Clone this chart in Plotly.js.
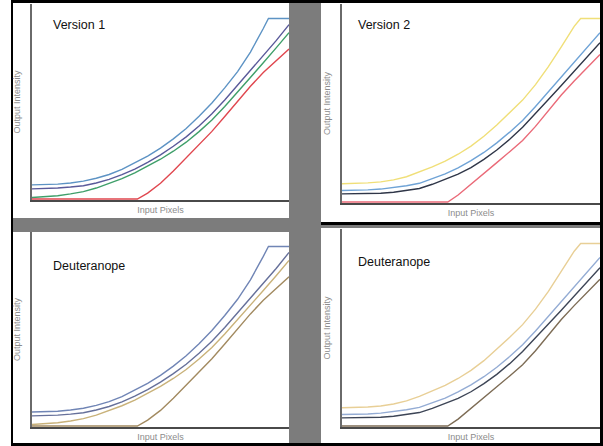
<!DOCTYPE html>
<html>
<head>
<meta charset="utf-8">
<script src="https://cdn.plot.ly/plotly-3.0.1.min.js"></script>
<style>html,body{margin:0;padding:0;background:#fff;}#chart{width:603px;height:446px;}</style>
</head>
<body>
<div id="chart"></div>
<script>
// Panel titles and axis titles
const panelTitles = ["Version 1", "Version 2", "Deuteranope", "Deuteranope"];
const xTitle = "Input Pixels";
const yTitle = "Output Intensity";

// Shared input positions
const xStd = [0, 5, 10, 15, 20, 25, 30, 35, 40, 45, 50, 55, 60, 65, 70, 75, 80, 85, 90, 95, 100];

// Left column (Version 1 and its deuteranope simulation)
const v1TopX = [0, 5, 10, 15, 20, 25, 30, 35, 40, 45, 50, 55, 60, 65, 70, 75, 80, 85, 90, 92, 100];
const v1TopY = [7.7, 7.8, 8.1, 8.7, 9.6, 11.1, 13.0, 15.6, 18.8, 22.4, 26.5, 31.2, 36.5, 42.7, 49.5, 57.2, 65.5, 75.5, 87.5, 92.6, 92.6];
const v1SecondY = [5.7, 5.8, 6.1, 6.6, 7.3, 8.7, 10.5, 12.9, 15.8, 19.2, 23.0, 27.4, 32.2, 37.8, 44.0, 51.0, 58.5, 66.0, 73.5, 81.3, 89.5];
const v1ThirdY = [1.3, 1.6, 2.2, 3.1, 4.3, 6.1, 8.3, 10.9, 13.8, 17.1, 20.8, 24.9, 29.5, 34.9, 40.8, 47.7, 55.0, 62.5, 70.0, 77.6, 85.4];
const v1LowX = [0, 10, 20, 30, 41, 45, 50, 55, 60, 65, 70, 75, 80, 85, 90, 95, 100];
const v1LowY = [0.5, 0.5, 0.5, 0.5, 0.5, 3.5, 8.5, 14.8, 21.5, 28.2, 35.0, 42.6, 50.5, 58.0, 65.0, 71.2, 77.0];

// Right column (Version 2 and its deuteranope simulation)
const v2TopX = [0, 5, 10, 15, 20, 25, 30, 35, 40, 45, 50, 55, 60, 65, 70, 75, 80, 85, 90, 92.5, 100];
const v2TopY = [9.7, 9.8, 10.1, 10.6, 11.6, 13.2, 15.5, 18.2, 21.0, 24.5, 28.6, 33.5, 39.2, 45.3, 51.7, 59.5, 68.5, 78.5, 88.8, 92.7, 92.7];
const v2SecondY = [6.3, 6.4, 6.6, 7.0, 7.7, 8.7, 9.9, 12.1, 14.6, 17.7, 21.3, 25.4, 30.2, 35.6, 41.5, 48.5, 56.0, 63.5, 71.0, 78.3, 85.6];
const v2ThirdY = [4.6, 4.6, 4.7, 4.9, 5.4, 6.3, 7.3, 9.4, 11.8, 14.5, 17.8, 21.9, 26.6, 32.0, 38.1, 44.8, 52.0, 59.0, 66.0, 73.2, 80.5];
const v2LowX = [0, 10, 20, 30, 41, 45, 50, 55, 60, 65, 70, 75, 80, 85, 90, 95, 100];
const v2LowY = [0.5, 0.5, 0.5, 0.5, 0.5, 4.0, 9.3, 14.8, 20.3, 25.8, 31.4, 38.5, 46.5, 54.3, 61.3, 68.0, 74.6];

// Colours per panel: [top, second, third, lowest]
const colorsV1 = ["#5d93c4", "#5a5a9a", "#3f9f6a", "#e0474f"];
const colorsV2 = ["#f0df78", "#6fa3d6", "#2f3648", "#ea6a78"];
const colorsD1 = ["#7085b5", "#66709a", "#c9b27a", "#a28a60"];
const colorsD2 = ["#e8cf96", "#94acd4", "#3d4556", "#7d6c55"];

const leftSeries = [[v1TopX, v1TopY], [xStd, v1SecondY], [xStd, v1ThirdY], [v1LowX, v1LowY]];
const rightSeries = [[v2TopX, v2TopY], [xStd, v2SecondY], [xStd, v2ThirdY], [v2LowX, v2LowY]];

const panels = [
  {series: leftSeries, colors: colorsV1, ax: ""},
  {series: rightSeries, colors: colorsV2, ax: "2"},
  {series: leftSeries, colors: colorsD1, ax: "3"},
  {series: rightSeries, colors: colorsD2, ax: "4"}
];

const traces = [];
panels.forEach(p => {
  p.series.forEach((s, i) => {
    traces.push({
      x: s[0], y: s[1], type: "scatter", mode: "lines",
      xaxis: "x" + p.ax, yaxis: "y" + p.ax,
      line: {color: p.colors[i], width: 1.4, shape: "linear"},
      showlegend: false, hoverinfo: "skip"
    });
  });
});

const W = 603, H = 446;
function px2x(px) { return px / W; }
function px2y(py) { return (H - py) / H; }

// plot areas in pixels: [left, right, top, bottom]
const boxes = [
  [32, 289, 4, 200],
  [342, 600, 4, 203],
  [32, 289, 232, 427],
  [342, 600, 229, 427]
];

function xa(b, anchor) {
  return {
    domain: [px2x(b[0]), px2x(b[1])], range: [0, 100], anchor: anchor,
    showline: true, linecolor: "#4a4a4a", linewidth: 2, mirror: false,
    showgrid: false, zeroline: false, showticklabels: false, ticks: "",
    fixedrange: true,
    title: {text: xTitle, standoff: 6, font: {family: "Liberation Sans, Arial, sans-serif", size: 9, color: "#8c8c8c"}}
  };
}
function ya(b, anchor) {
  return {
    domain: [px2y(b[3]), px2y(b[2])], range: [0, 100], anchor: anchor,
    showline: true, linecolor: "#6a6a6a", linewidth: 2, mirror: false,
    showgrid: false, zeroline: false, showticklabels: false, ticks: "",
    fixedrange: true,
    title: {text: yTitle, standoff: 8, font: {family: "Liberation Sans, Arial, sans-serif", size: 9, color: "#8c8c8c"}}
  };
}

const layout = {
  width: W, height: H,
  margin: {l: 0, r: 0, t: 0, b: 0},
  paper_bgcolor: "#7c7c7c",
  plot_bgcolor: "rgba(0,0,0,0)",
  showlegend: false,
  xaxis: xa(boxes[0], "y"), yaxis: ya(boxes[0], "x"),
  xaxis2: xa(boxes[1], "y2"), yaxis2: ya(boxes[1], "x2"),
  xaxis3: xa(boxes[2], "y3"), yaxis3: ya(boxes[2], "x3"),
  xaxis4: xa(boxes[3], "y4"), yaxis4: ya(boxes[3], "x4"),
  shapes: [
    {type: "rect", xref: "paper", yref: "paper", x0: 0, x1: px2x(11), y0: 0, y1: 1, fillcolor: "#ffffff", line: {width: 0}, layer: "below"},
    {type: "rect", xref: "paper", yref: "paper", x0: px2x(13), x1: px2x(289), y0: px2y(218), y1: px2y(3), fillcolor: "#ffffff", line: {width: 0}, layer: "below"},
    {type: "rect", xref: "paper", yref: "paper", x0: px2x(321), x1: px2x(600), y0: px2y(223), y1: px2y(3), fillcolor: "#ffffff", line: {width: 0}, layer: "below"},
    {type: "rect", xref: "paper", yref: "paper", x0: px2x(13), x1: px2x(289), y0: px2y(443), y1: px2y(232), fillcolor: "#ffffff", line: {width: 0}, layer: "below"},
    {type: "rect", xref: "paper", yref: "paper", x0: px2x(321), x1: px2x(600), y0: px2y(443), y1: px2y(228), fillcolor: "#ffffff", line: {width: 0}, layer: "below"},
    {type: "rect", xref: "paper", yref: "paper", x0: px2x(11), x1: px2x(13), y0: 0, y1: 1, fillcolor: "#000000", line: {width: 0}, layer: "below"},
    {type: "rect", xref: "paper", yref: "paper", x0: px2x(11), x1: 1, y0: px2y(3), y1: 1, fillcolor: "#000000", line: {width: 0}, layer: "below"},
    {type: "rect", xref: "paper", yref: "paper", x0: px2x(11), x1: 1, y0: 0, y1: px2y(443), fillcolor: "#000000", line: {width: 0}, layer: "below"},
    {type: "rect", xref: "paper", yref: "paper", x0: px2x(600), x1: 1, y0: 0, y1: 1, fillcolor: "#000000", line: {width: 0}, layer: "below"},
    {type: "rect", xref: "paper", yref: "paper", x0: px2x(321), x1: 1, y0: px2y(225), y1: px2y(222), fillcolor: "#000000", line: {width: 0}, layer: "below"}
  ],
  annotations: panelTitles.map((t, i) => ({
    text: t, xref: "paper", yref: "paper",
    x: px2x([51, 356, 51, 356][i]), y: px2y([25, 25, 266, 262][i]),
    xanchor: "left", yanchor: "middle", showarrow: false,
    font: {family: "Liberation Sans, Arial, sans-serif", size: 12.5, color: "#111111"}
  }))
};

Plotly.newPlot("chart", traces, layout, {staticPlot: true, displayModeBar: false});
</script>
</body>
</html>
